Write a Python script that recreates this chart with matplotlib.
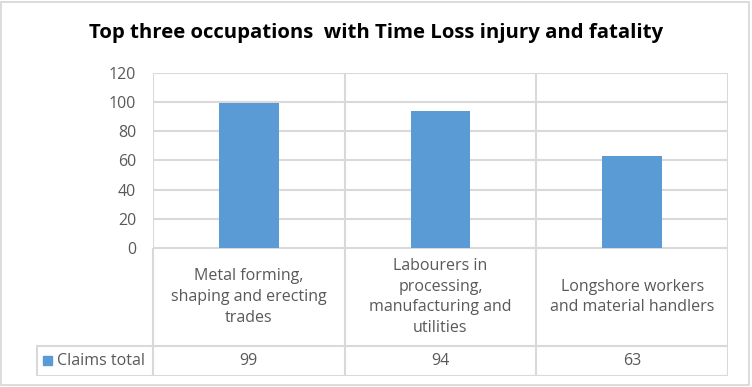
import matplotlib.pyplot as plt
from matplotlib.patches import Rectangle

# Data
categories = ["Metal forming,\nshaping and erecting\ntrades",
              "Labourers in\nprocessing,\nmanufacturing and\nutilities",
              "Longshore workers\nand material handlers"]
claims_total = [99, 94, 63]
series_name = "Claims total"
y_ticks = [0, 20, 40, 60, 80, 100, 120]

BLUE = "#5B9BD5"
GRID = "#D9D9D9"
TXT = "#595959"
W, H = 752, 387

plt.rcParams['font.family'] = ['Open Sans', 'DejaVu Sans']

fig = plt.figure(figsize=(W / 100, H / 100), dpi=100)

def fx(px):
    return px / W

def fy(py):
    return 1 - py / H

# outer chart border
fig.patches.append(Rectangle((fx(1), fy(385)), fx(748), 383 / H, transform=fig.transFigure,
                             fill=False, edgecolor=GRID, lw=1.3))

# plot area
left, right, top, bottom = 153, 728, 72.7, 248
ax = fig.add_axes([fx(left), fy(bottom), fx(right - left), (bottom - top) / H])
x = range(len(categories))
ax.bar(x, claims_total, width=0.31, color=BLUE, zorder=3)
ax.set_xlim(-0.5, len(categories) - 0.5)
ax.set_ylim(0, 120)
ax.set_yticks(y_ticks)
ax.set_yticklabels([str(t) for t in y_ticks], color=TXT, fontsize=11.5)
ax.tick_params(axis='y', length=0, pad=12)
ax.set_xticks([])
for t in y_ticks:
    ax.axhline(t, color=GRID, lw=1.5, zorder=1)
for b in [-0.5, 0.5, 1.5, 2.5]:
    ax.axvline(b, color=GRID, lw=1.5, zorder=1)
for s in ax.spines.values():
    s.set_visible(False)

# data table
col_w = (right - left) / len(categories)
t_left, t_bottom = 36, 376
tx = fig.add_axes([fx(t_left), fy(t_bottom), fx(right - t_left), (t_bottom - bottom) / H])
tx.set_xlim(-0.5 - (left - t_left) / col_w, len(categories) - 0.5)
tx.set_ylim(t_bottom - bottom, 0)
tx.axis('off')
row_split = 346 - bottom
lc = dict(color=GRID, lw=1.5)
tx.plot([-0.5, 2.5], [0, 0], **lc)
tx.plot(tx.get_xlim(), [row_split, row_split], **lc)
tx.plot(tx.get_xlim(), [t_bottom - bottom - 0.5] * 2, **lc)
tx.plot([tx.get_xlim()[0] + 0.004] * 2, [row_split, t_bottom - bottom], **lc)
for b in [-0.5, 0.5, 1.5, 2.5]:
    tx.plot([b, b], [0, t_bottom - bottom], **lc)

for i, (cat, v) in enumerate(zip(categories, claims_total)):
    tx.text(i, row_split / 2, cat, ha='center', va='center', color=TXT,
            fontsize=11.5, linespacing=1.4)
    tx.text(i, (row_split + t_bottom - bottom) / 2, str(v), ha='center', va='center',
            color=TXT, fontsize=11.5)

x0 = tx.get_xlim()[0]
tx.add_patch(Rectangle((x0 + 7 / col_w, row_split + 10), 9 / col_w, 9, color=BLUE))
tx.text(x0 + 21 / col_w, (row_split + t_bottom - bottom) / 2, series_name, ha='left',
        va='center', color=TXT, fontsize=11.5)

fig.text(0.5, fy(33), "Top three occupations  with Time Loss injury and fatality",
         ha='center', va='center', fontsize=14.7, fontweight='bold', color='black')

fig.savefig("out.png", dpi=100)
